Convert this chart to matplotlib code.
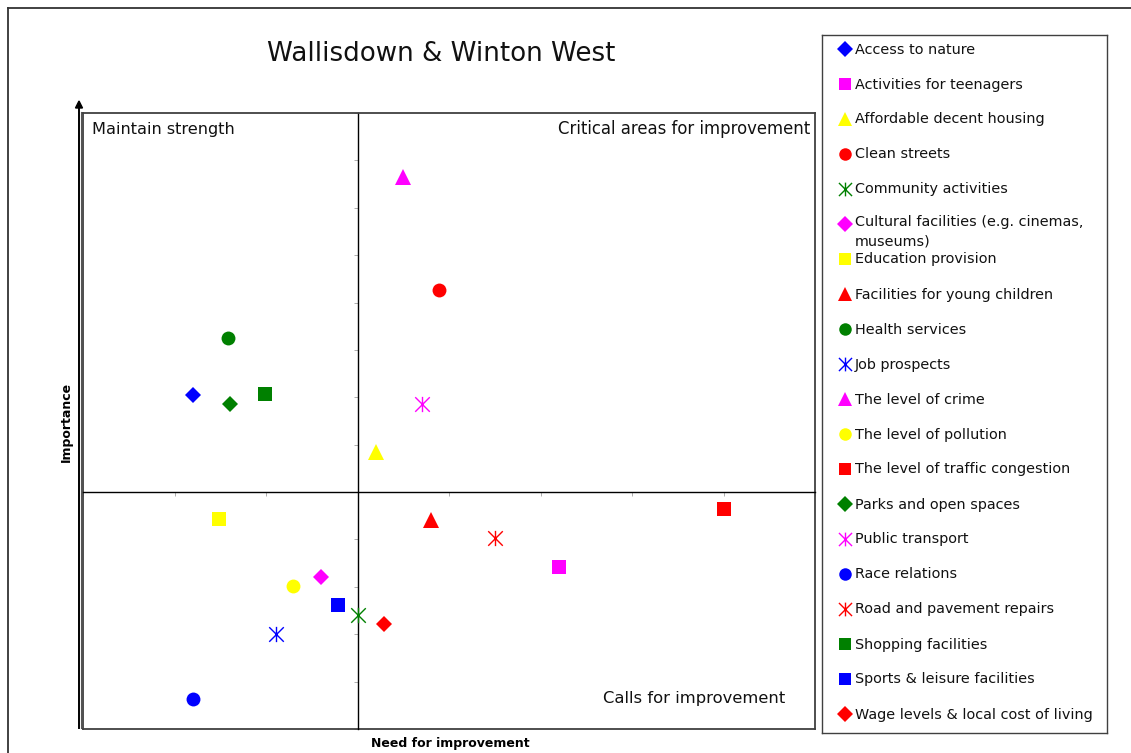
import numpy as np
import matplotlib
matplotlib.use("Agg")
import matplotlib.pyplot as plt
from matplotlib.path import Path
from matplotlib.lines import Line2D

plt.rcParams['font.family'] = ['DejaVu Sans']

# data
labels = ['Access to nature', 'Activities for teenagers', 'Affordable decent housing',
          'Clean streets', 'Community activities',
          'Cultural facilities (e.g. cinemas,\nmuseums)', 'Education provision',
          'Facilities for young children', 'Health services', 'Job prospects',
          'The level of crime', 'The level of pollution',
          'The level of traffic congestion', 'Parks and open spaces', 'Public transport',
          'Race relations', 'Road and pavement repairs', 'Shopping facilities',
          'Sports & leisure facilities', 'Wage levels & local cost of living']
need = [-1.80, 2.20, 0.20, 0.89, 0.00, -0.40, -1.51, 0.80, -1.41, -0.89,
        0.50, -0.71, 4.00, -1.39, 0.71, -1.80, 1.50, -1.01, -0.21, 0.29]
importance = [2.05, -1.59, 0.85, 4.26, -2.59, -1.79, -0.56, -0.58, 3.26, -2.99,
              6.64, -1.98, -0.36, 1.85, 1.85, -4.37, -0.97, 2.06, -2.38, -2.79]
colors = ['#0000FF', '#FF00FF', '#FFFF00', '#FF0000', '#008000', '#FF00FF', '#FFFF00',
          '#FF0000', '#008000', '#0000FF', '#FF00FF', '#FFFF00', '#FF0000', '#008000',
          '#FF00FF', '#0000FF', '#FF0000', '#008000', '#0000FF', '#FF0000']
shapes = ['D', 's', '^', 'o', 'star', 'D', 's', '^', 'o', 'star',
          '^', 'o', 's', 'D', 'star', 'o', 'star', 's', 's', 'D']

# excel style star: X plus a vertical bar
star = Path([(-1, -1), (1, 1), (-1, 1), (1, -1), (0, -1.05), (0, 1.05)],
            [Path.MOVETO, Path.LINETO, Path.MOVETO, Path.LINETO, Path.MOVETO, Path.LINETO])


def mk(shape, c, scale=1.0):
    d = dict(color=c, markerfacecolor=c, markeredgecolor=c, markeredgewidth=0)
    if shape == 'star':
        d.update(marker=star, markersize=11, markerfacecolor='none', markeredgewidth=1.0)
    elif shape == 'D':
        d.update(marker='D', markersize=8.5)
    elif shape == '^':
        d.update(marker='^', markersize=11)
    elif shape == 's':
        d.update(marker='s', markersize=9.5)
    else:
        d.update(marker='o', markersize=10)
    d['markersize'] = d['markersize'] * scale
    return d


W, H = 1131, 753
fig = plt.figure(figsize=(W / 100, H / 100), dpi=100)

# plot area in pixels
x0, x1, y0, y1 = 83, 815, 113, 729
ax = fig.add_axes([x0 / W, 1 - y1 / H, (x1 - x0) / W, (y1 - y0) / H])
ax.set_xlim(-3, 5)
ax.set_ylim(-5, 8)

for i in range(len(labels)):
    ax.plot(need[i], importance[i], linestyle='none', zorder=3, clip_on=False,
            **mk(shapes[i], colors[i]))

ax.spines['left'].set_position(('data', 0))
ax.spines['bottom'].set_position(('data', 0))
for s in ['left', 'bottom']:
    ax.spines[s].set_color('black')
    ax.spines[s].set_linewidth(1.0)
for s in ['top', 'right']:
    ax.spines[s].set_color('#404040')
    ax.spines[s].set_linewidth(1.3)
ax.set_xticks(np.arange(-3, 6, 1))
ax.set_yticks(np.arange(-5, 9, 1))
ax.tick_params(direction='out', length=3, width=0.6, color='#a0a0a0',
               labelbottom=False, labelleft=False)
# outer box left/bottom
ax.plot([0, 0], [0, 1], transform=ax.transAxes, color='#404040', lw=1.3, clip_on=False)
ax.plot([0, 1], [0, 0], transform=ax.transAxes, color='#404040', lw=1.3, clip_on=False)

ax.text(0.012, 0.974, 'Maintain strength', transform=ax.transAxes, fontsize=11.6,
        ha='left', va='center', color='#111111')
ax.text(0.993, 0.974, 'Critical areas for improvement', transform=ax.transAxes,
        fontsize=11.9, ha='right', va='center', color='#111111')
ax.text(0.96, 0.05, 'Calls for improvement', transform=ax.transAxes, fontsize=11.8,
        ha='right', va='center', color='#111111')

fig.text(441 / W, 1 - 54 / H, 'Wallisdown & Winton West', fontsize=18.8, ha='center',
         va='center', color='#111111')
fig.text(450 / W, 1 - 743 / H, 'Need for improvement', fontsize=9, fontweight='bold',
         ha='center', va='center')
fig.text(66 / W, 1 - 422 / H, 'Importance', fontsize=9, fontweight='bold', rotation=90,
         ha='center', va='center')

# axis arrow on the left
fig.add_artist(Line2D([79 / W, 79 / W], [1 - 728 / H, 1 - 108 / H], color='black', lw=1.4))
fig.add_artist(Line2D([81 / W, 81 / W], [1 - 728 / H, 1 - 112 / H], color='#555555', lw=0.8))
fig.patches.append(plt.Polygon([[75.5 / W, 1 - 108 / H], [82.5 / W, 1 - 108 / H],
                                [79 / W, 1 - 101 / H]], closed=True, color='black',
                               transform=fig.transFigure, figure=fig))

# outer frame (runs off the right and bottom edges)
fig.add_artist(Line2D([7.5 / W, 7.5 / W], [0, 1 - 7.5 / H], color='#333333', lw=1.3))
fig.add_artist(Line2D([7.5 / W, 1], [1 - 7.5 / H, 1 - 7.5 / H], color='#333333', lw=1.3))

# legend box
lx0, lx1, ly0, ly1 = 822, 1107, 35, 733
lax = fig.add_axes([lx0 / W, 1 - ly1 / H, (lx1 - lx0) / W, (ly1 - ly0) / H])
lax.set_xlim(lx0, lx1)
lax.set_ylim(ly1, ly0)
lax.set_xticks([])
lax.set_yticks([])
for s in lax.spines.values():
    s.set_color('#404040')
    s.set_linewidth(1.0)
for i, lab in enumerate(labels):
    yy = 49 + 35 * i
    lax.plot(845, yy, linestyle='none', **mk(shapes[i], colors[i], 0.9))
    if '\n' in lab:
        lax.text(855, yy - 9, lab, fontsize=10.4, ha='left', va='top', linespacing=1.5,
                 color='#111111')
    else:
        lax.text(855, yy + 0.5, lab, fontsize=10.4, ha='left', va='center', color='#111111')

fig.savefig('out.png', dpi=100)
